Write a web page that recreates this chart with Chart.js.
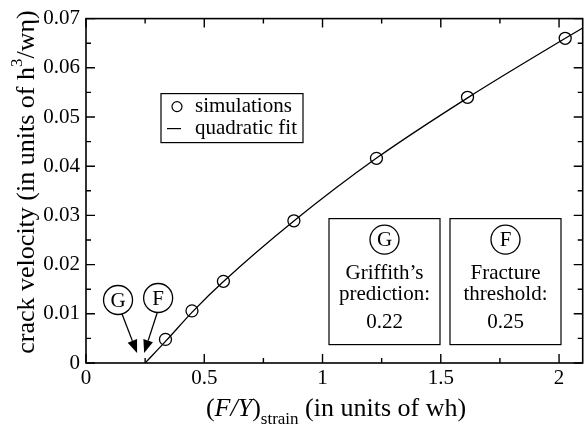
<!DOCTYPE html>
<html>
<head>
<meta charset="utf-8">
<script src="https://cdn.jsdelivr.net/npm/chart.js@4"></script>
<style>
  html, body { margin: 0; padding: 0; background: #fff; overflow: hidden; }
  #wrap { width: 590px; height: 432px; }
</style>
</head>
<body>
<div id="wrap"><canvas id="chartCrack"></canvas></div>
<script>
// simulation points
const simX = [0.336, 0.448, 0.581, 0.879, 1.228, 1.613, 2.026];
const simY = [0.0048, 0.0106, 0.0166, 0.0289, 0.0416, 0.0540, 0.0660];

// quadratic fit curve
const fitX = [0.25, 0.34, 0.45, 0.58, 0.88, 1.23, 1.62, 2.03, 2.1];
const fitY = [0, 0.0046, 0.0104, 0.0165, 0.0289, 0.0417, 0.0541, 0.0661, 0.0681];

const xTicks = [0, 0.5, 1, 1.5, 2];
const xTickLabels = ["0", "0.5", "1", "1.5", "2"];
const yTicks = [0, 0.01, 0.02, 0.03, 0.04, 0.05, 0.06, 0.07];
const yTickLabels = ["0", "0.01", "0.02", "0.03", "0.04", "0.05", "0.06", "0.07"];

const griffith = 0.22;
const fracture = 0.25;

const SERIF = "'Liberation Serif', 'Times New Roman', serif";
const tickFont = { family: SERIF, size: 21 };

function toPts(xs, ys) {
  return xs.map((x, i) => ({ x: x, y: ys[i] }));
}

function circled(ctx, cx, cy, letter) {
  ctx.beginPath();
  ctx.arc(cx, cy, 14.5, 0, Math.PI * 2);
  ctx.lineWidth = 1.3;
  ctx.stroke();
  ctx.font = "21px " + SERIF;
  ctx.textAlign = "center";
  ctx.textBaseline = "middle";
  ctx.fillText(letter, cx, cy + 1);
}

function arrow(ctx, x0, y0, x1, y1) {
  const a = Math.atan2(y1 - y0, x1 - x0);
  const len = 13, w = 5;
  const bx = x1 - len * Math.cos(a), by = y1 - len * Math.sin(a);
  ctx.beginPath();
  ctx.moveTo(x0, y0);
  ctx.lineTo(bx, by);
  ctx.lineWidth = 1.3;
  ctx.stroke();
  ctx.beginPath();
  ctx.moveTo(x1, y1);
  ctx.lineTo(bx + w * Math.sin(a), by - w * Math.cos(a));
  ctx.lineTo(bx - w * Math.sin(a), by + w * Math.cos(a));
  ctx.closePath();
  ctx.fill();
}

const decorations = {
  id: "decorations",
  afterDraw(chart) {
    const ctx = chart.ctx;
    const { left, right, top, bottom } = chart.chartArea;
    const xs = chart.scales.x, ys = chart.scales.y;
    ctx.save();
    ctx.strokeStyle = "#000";
    ctx.fillStyle = "#000";

    // frame
    ctx.lineWidth = 1.6;
    ctx.strokeRect(left, top, right - left, bottom - top);

    // inward ticks on all four sides
    ctx.lineWidth = 1.4;
    for (let i = 0; i <= 8; i++) {
      const v = i * 0.25;
      const px = xs.getPixelForValue(v);
      const len = i % 2 === 0 ? 9 : 5;
      ctx.beginPath();
      ctx.moveTo(px, bottom); ctx.lineTo(px, bottom - len);
      ctx.moveTo(px, top); ctx.lineTo(px, top + len);
      ctx.stroke();
    }
    for (let i = 0; i <= 14; i++) {
      const v = i * 0.005;
      const py = ys.getPixelForValue(v);
      const len = i % 2 === 0 ? 9 : 5;
      ctx.beginPath();
      ctx.moveTo(left, py); ctx.lineTo(left + len, py);
      ctx.moveTo(right, py); ctx.lineTo(right - len, py);
      ctx.stroke();
    }

    // legend box
    const lx = left + 75, ly = top + 75;
    ctx.lineWidth = 1.2;
    ctx.strokeRect(lx, ly, 142, 49);
    ctx.beginPath();
    ctx.arc(lx + 16, ly + 13, 5, 0, Math.PI * 2);
    ctx.stroke();
    ctx.beginPath();
    ctx.moveTo(lx + 6, ly + 35); ctx.lineTo(lx + 20, ly + 35);
    ctx.stroke();
    ctx.font = "21px " + SERIF;
    ctx.textAlign = "left";
    ctx.textBaseline = "middle";
    ctx.fillText("simulations", lx + 34, ly + 13);
    ctx.fillText("quadratic fit", lx + 34, ly + 35);

    // info boxes
    const boxes = [
      { x: left + 243, letter: "G", lines: ["Griffith\u2019s", "prediction:", String(griffith)] },
      { x: left + 364, letter: "F", lines: ["Fracture", "threshold:", String(fracture)] }
    ];
    boxes.forEach(b => {
      const bw = 111, by = top + 200, bh = 126;
      ctx.lineWidth = 1.2;
      ctx.strokeRect(b.x, by, bw, bh);
      const cx = b.x + bw / 2;
      circled(ctx, cx, by + 21, b.letter);
      ctx.font = "21px " + SERIF;
      ctx.textAlign = "center";
      ctx.textBaseline = "middle";
      ctx.fillText(b.lines[0], cx, by + 55);
      ctx.fillText(b.lines[1], cx, by + 76);
      ctx.fillText(b.lines[2], cx, by + 104);
    });

    // circled labels with arrows pointing at the thresholds
    const gx = xs.getPixelForValue(griffith), fx = xs.getPixelForValue(fracture);
    circled(ctx, gx - 20, bottom - 63, "G");
    circled(ctx, fx + 13, bottom - 65, "F");
    arrow(ctx, gx - 16, bottom - 49, gx - 1, bottom - 10);
    arrow(ctx, fx + 12, bottom - 50, fx - 1, bottom - 10);

    // y axis title
    const big = "26px " + SERIF, sup = "17px " + SERIF;
    ctx.save();
    ctx.translate(34, 182);
    ctx.rotate(-Math.PI / 2);
    ctx.textAlign = "left";
    ctx.textBaseline = "alphabetic";
    const partsY = [
      { t: "crack velocity (in units of h", f: big, dy: 0 },
      { t: "3", f: sup, dy: -12 },
      { t: "/w\u03b7)", f: big, dy: 0 }
    ];
    let total = 0;
    partsY.forEach(p => { ctx.font = p.f; total += ctx.measureText(p.t).width; });
    let cx = -total / 2;
    partsY.forEach(p => {
      ctx.font = p.f;
      ctx.fillText(p.t, cx, p.dy);
      cx += ctx.measureText(p.t).width;
    });
    ctx.restore();

    // x axis title
    const partsX = [
      { t: "(", f: big, dy: 0 },
      { t: "F/Y", f: "italic 26px " + SERIF, dy: 0 },
      { t: ")", f: big, dy: 0 },
      { t: "strain", f: sup, dy: 8 },
      { t: " (in units of wh)", f: big, dy: 0 }
    ];
    total = 0;
    partsX.forEach(p => { ctx.font = p.f; total += ctx.measureText(p.t).width; });
    let tx = 336 - total / 2;
    ctx.textAlign = "left";
    ctx.textBaseline = "alphabetic";
    partsX.forEach(p => {
      ctx.font = p.f;
      ctx.fillText(p.t, tx, 416 + p.dy);
      tx += ctx.measureText(p.t).width;
    });

    ctx.restore();
  }
};

const dataCrack = {
  datasets: [
    {
      label: "quadratic fit",
      data: toPts(fitX, fitY),
      showLine: true,
      borderColor: "#000",
      borderWidth: 1.3,
      pointRadius: 0,
      cubicInterpolationMode: "monotone",
      fill: false,
    },
    {
      label: "simulations",
      data: toPts(simX, simY),
      showLine: false,
      pointStyle: "circle",
      pointRadius: 6,
      pointBorderWidth: 1.3,
      pointBorderColor: "#000",
      pointBackgroundColor: "rgba(0,0,0,0)",
    },
  ],
};

const configCrack = {
  type: "scatter",
  data: dataCrack,
  plugins: [decorations],
  options: {
    responsive: true,
    maintainAspectRatio: false,
    animation: false,
    layout: { padding: { top: 12, right: 4, left: 0, bottom: 0 } },
    plugins: { legend: { display: false }, tooltip: { enabled: false } },
    scales: {
      x: {
        type: "linear",
        min: 0,
        max: 2.1,
        afterBuildTicks: (s) => { s.ticks = xTicks.map(v => ({ value: v })); },
        afterFit: (s) => { s.height = 69; },
        grid: { display: false, drawTicks: false },
        border: { display: false },
        ticks: {
          font: tickFont,
          color: "#000",
          padding: 3,
          maxRotation: 0,
          autoSkip: false,
          callback: (v, i) => xTickLabels[i],
        },
      },
      y: {
        type: "linear",
        min: 0,
        max: 0.07,
        afterBuildTicks: (s) => { s.ticks = yTicks.map(v => ({ value: v })); },
        afterFit: (s) => { s.width = 86; },
        grid: { display: false, drawTicks: false },
        border: { display: false },
        ticks: {
          font: tickFont,
          color: "#000",
          padding: 6,
          autoSkip: false,
          callback: (v, i) => yTickLabels[i],
        },
      },
    },
  },
};

let chartCrack = new Chart(document.getElementById("chartCrack"), configCrack);
</script>
</body>
</html>
